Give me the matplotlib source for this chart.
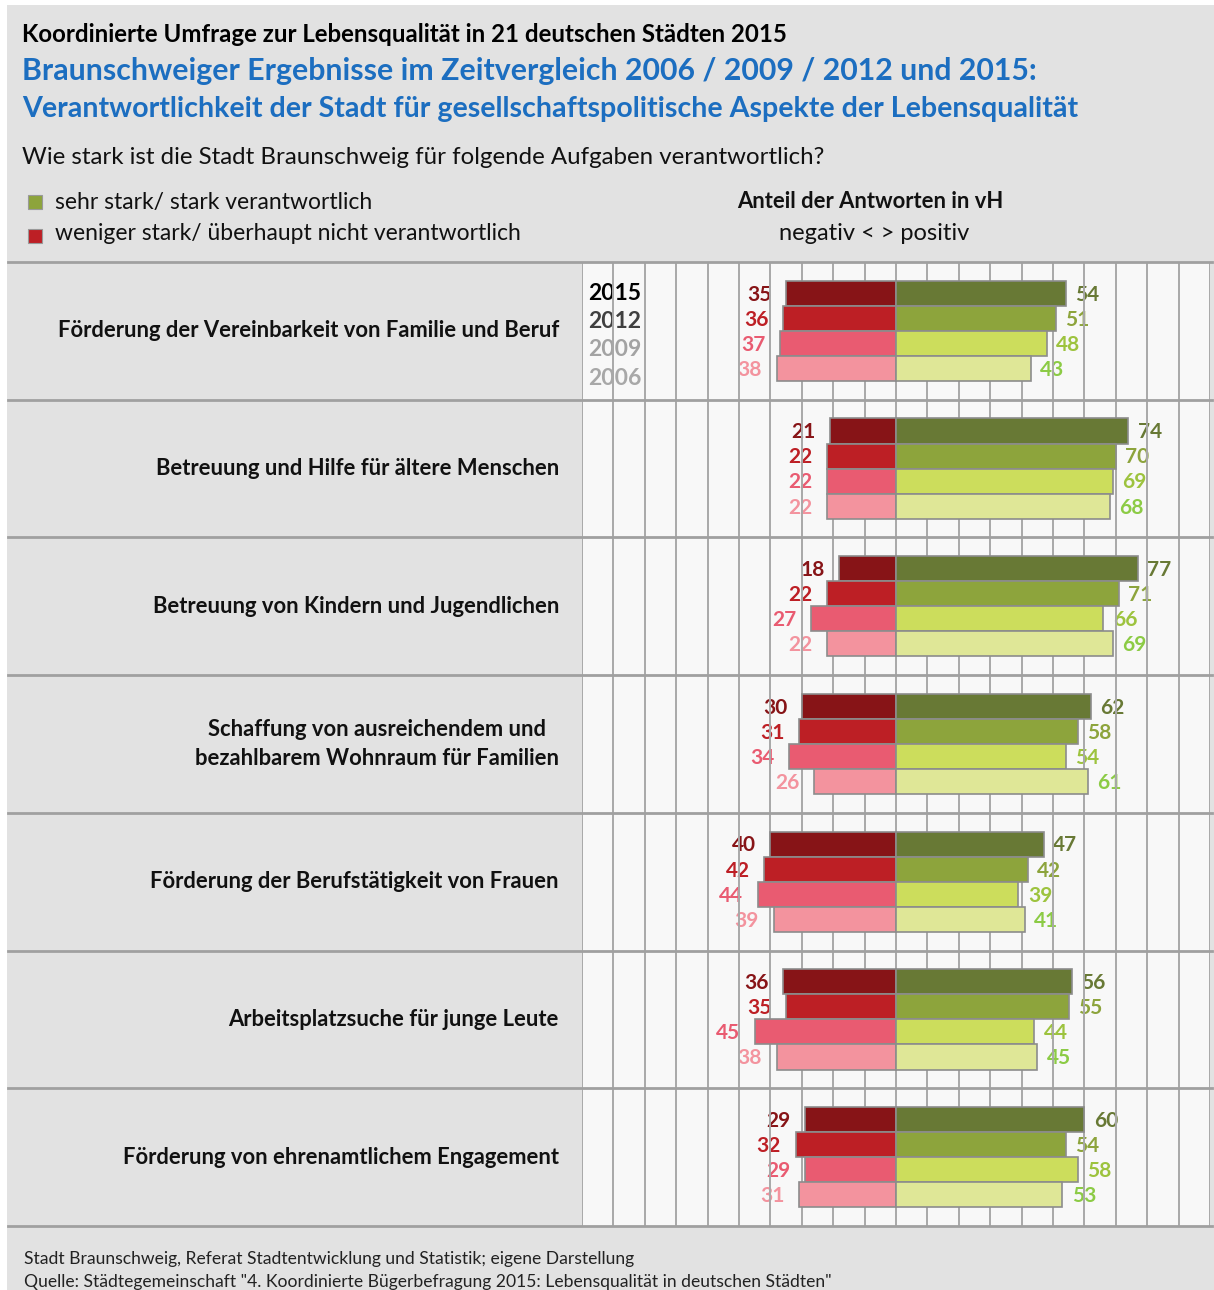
import matplotlib
matplotlib.use("Agg")
import matplotlib.pyplot as plt
from matplotlib.patches import Rectangle
import numpy as np

plt.rcParams['font.family'] = ['Lato', 'DejaVu Sans']

# ---------------- data ----------------
categories = [
    "Förderung der Vereinbarkeit von Familie und Beruf",
    "Betreuung und Hilfe für ältere Menschen",
    "Betreuung von Kindern und Jugendlichen",
    "Schaffung von ausreichendem und\nbezahlbarem Wohnraum für Familien",
    "Förderung der Berufstätigkeit von Frauen",
    "Arbeitsplatzsuche für junge Leute",
    "Förderung von ehrenamtlichem Engagement",
]
years = ["2015", "2012", "2009", "2006"]
# negative ("weniger stark / überhaupt nicht verantwortlich"), per year
neg_2015 = [35, 21, 18, 30, 40, 36, 29]
neg_2012 = [36, 22, 22, 31, 42, 35, 32]
neg_2009 = [37, 22, 27, 34, 44, 45, 29]
neg_2006 = [38, 22, 22, 26, 39, 38, 31]
# positive ("sehr stark / stark verantwortlich"), per year
pos_2015 = [54, 74, 77, 62, 47, 56, 60]
pos_2012 = [51, 70, 71, 58, 42, 55, 54]
pos_2009 = [48, 69, 66, 54, 39, 44, 58]
pos_2006 = [43, 68, 69, 61, 41, 45, 53]

neg = [neg_2015, neg_2012, neg_2009, neg_2006]
pos = [pos_2015, pos_2012, pos_2009, pos_2006]

neg_colors = ["#871417", "#BD1F25", "#E95B71", "#F3939E"]
pos_colors = ["#687935", "#8DA43C", "#CCDD5C", "#DFE797"]
neg_label_colors = ["#871417", "#BD1F25", "#E95B71", "#F3939E"]
pos_label_colors = ["#687935", "#8DA43C", "#9DC33E", "#8CCB45"]
year_colors = ["#000000", "#404040", "#A3A3A3", "#A8A8A8"]

# ---------------- figure ----------------
W, H = 1214, 1290
fig = plt.figure(figsize=(W / 100, H / 100), dpi=100)
fig.patch.set_facecolor("white")
BG = "#E2E2E2"

def fx(px):
    return px / W

def fy(py):
    return 1 - py / H

fig.patches.append(Rectangle((fx(7), 0), fx(1214) - fx(7), fy(5), transform=fig.transFigure,
                             facecolor=BG, edgecolor="none", zorder=-10))

# titles
fig.text(fx(22), fy(34), "Koordinierte Umfrage zur Lebensqualität in 21 deutschen Städten 2015",
         fontsize=17.3, fontweight="bold", color="black", va="center", ha="left")
fig.text(fx(22), fy(71), "Braunschweiger Ergebnisse im Zeitvergleich 2006 / 2009 / 2012 und 2015:",
         fontsize=21.8, fontweight="bold", color="#1C6EC0", va="center", ha="left")
fig.text(fx(22), fy(109), "Verantwortlichkeit der Stadt für gesellschaftspolitische Aspekte der Lebensqualität",
         fontsize=20.6, fontweight="bold", color="#1C6EC0", va="center", ha="left")
fig.text(fx(22), fy(158), "Wie stark ist die Stadt Braunschweig für folgende Aufgaben verantwortlich?",
         fontsize=17.3, color="#111111", va="center", ha="left")

# legend
fig.patches.append(Rectangle((fx(28), fy(209)), fx(14), 14 / H, transform=fig.transFigure,
                             facecolor=pos_colors[1], edgecolor="#999999", lw=0.8, zorder=2))
fig.patches.append(Rectangle((fx(28), fy(243)), fx(14), 14 / H, transform=fig.transFigure,
                             facecolor=neg_colors[1], edgecolor="#999999", lw=0.8, zorder=2))
fig.text(fx(55), fy(203), "sehr stark/ stark verantwortlich", fontsize=16.5, color="#111111",
         va="center", ha="left")
fig.text(fx(55), fy(234), "weniger stark/ überhaupt nicht verantwortlich", fontsize=16.5,
         color="#111111", va="center", ha="left")

fig.text(fx(870), fy(202), "Anteil der Antworten in vH", fontsize=15.8, fontweight="bold",
         color="#111111", va="center", ha="center")
fig.text(fx(874), fy(233), "negativ < > positiv", fontsize=17, color="#111111",
         va="center", ha="center")

# footer
fig.text(fx(24), fy(1259), "Stadt Braunschweig, Referat Stadtentwicklung und Statistik; eigene Darstellung",
         fontsize=12.6, color="#222222", va="center", ha="left")
fig.text(fx(24), fy(1282),
         "Quelle: Städtegemeinschaft \"4. Koordinierte Bügerbefragung 2015: Lebensqualität in deutschen Städten\"",
         fontsize=12.6, color="#222222", va="center", ha="left")

# ---------------- axes ----------------
ax = fig.add_axes([fx(582), fy(1226), fx(1210) - fx(582), fy(262) - fy(1226)])
ax.set_zorder(1)
ax.set_facecolor("#F8F8F8")
ax.set_xlim(-100, 100)
n = len(categories)
ax.set_ylim(n, 0)
for s in ax.spines.values():
    s.set_visible(False)
ax.set_xticks([])
ax.set_yticks([])

# vertical gridlines
for gx in np.arange(-100, 101, 10):
    ax.axvline(gx, color="#A8A8A8", lw=1.4, zorder=2)

bh = 0.182
for j in range(4):
    ys = np.arange(n) + 0.5 + (j - 1.5) * bh
    nv = np.array(neg[j])
    pv = np.array(pos[j])
    ax.barh(ys, -nv, height=bh, color=neg_colors[j], edgecolor="#8C8C8C", lw=1.2, zorder=3)
    ax.barh(ys, pv, height=bh, color=pos_colors[j], edgecolor="#8C8C8C", lw=1.2, zorder=3)
    for y, a, b in zip(ys, nv, pv):
        ax.text(-a - 4.6, y + 0.01, str(a), ha="right", va="center", fontsize=15, fontweight="bold",
                color=neg_label_colors[j], zorder=1)
        ax.text(b + 3.0, y + 0.01, str(b), ha="left", va="center", fontsize=15, fontweight="bold",
                color=pos_label_colors[j], zorder=1)

# year labels in first row
for j, yr in enumerate(years):
    ax.text(-98, 0.535 + (j - 1.5) * 0.206, yr, ha="left", va="center", fontsize=16.5,
            fontweight="bold", color=year_colors[j], zorder=1)

# horizontal separators across full width
tr = ax.get_yaxis_transform()
x_left = (8 - 582) / (1210 - 582)
x_right = (1212 - 582) / (1210 - 582)
for i in range(n + 1):
    ax.plot([x_left, x_right], [i, i], transform=tr, color="#A0A0A0", lw=2, clip_on=False, zorder=5)

# category labels
lab_x = (559 - 582) / (1210 - 582)
for i, c in enumerate(categories):
    ax.text(lab_x, i + 0.5, c, transform=tr, ha="right", va="center", multialignment="center",
            fontsize=15.8, fontweight="bold", color="#111111", linespacing=1.42, clip_on=False)

fig.savefig("out.png", dpi=100, facecolor=fig.get_facecolor())
